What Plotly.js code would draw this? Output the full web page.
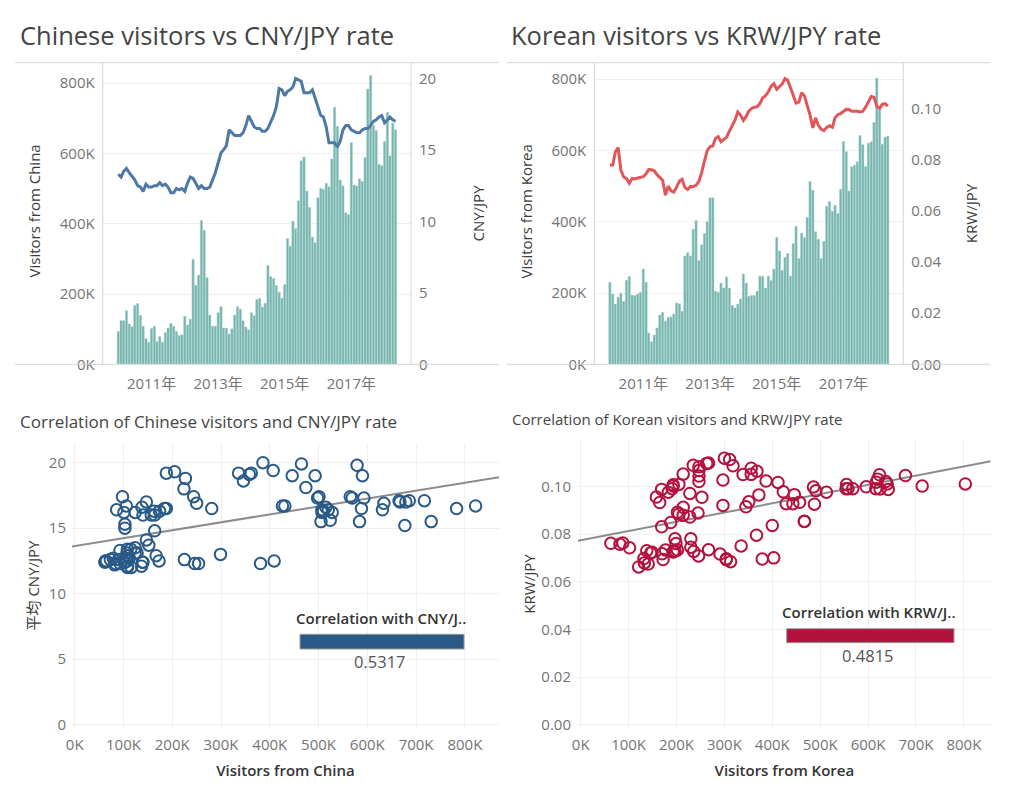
<!DOCTYPE html>
<html><head><meta charset="utf-8">
<script src="https://cdn.plot.ly/plotly-3.0.1.min.js"></script>
<style>html,body{margin:0;padding:0;background:#fff}#chart{width:1014px;height:797px}</style>
</head><body><div id="chart"></div>
<script>
// ---------- data ----------
const firstMonth = '2010-01';
const chinaVisitorsK = [93,124,124,152,115,107,167,173,139,108,73,62,102,108,65,79,63,90,103,116,
  108,93,82,84,137,112,128,299,225,254,409,381,246,140,108,108,147,164,103,103,
  86,101,140,164,157,124,106,98,147,138,184,188,163,174,281,250,244,224,205,188,
  227,358,336,407,386,465,579,590,493,446,362,346,474,501,498,515,505,584,731,677,
  524,507,431,426,631,510,507,528,520,588,783,822,679,665,569,565,634,717,593,686,667];
const cnyJpy = [13.3,13.1,13.5,13.7,13.4,13.1,12.9,12.5,12.4,12.1,12.6,12.4,12.4,12.5,12.5,12.7,12.5,12.6,12.4,12.0,
  12.0,12.3,12.2,12.3,12.1,12.7,13.1,13.0,12.6,12.3,12.5,12.3,12.3,12.4,12.9,13.4,14.1,14.8,15.0,15.3,
  16.4,16.2,16.0,16.0,16.0,16.2,16.7,17.4,17.0,16.6,16.5,16.5,16.3,16.3,16.5,16.9,17.4,18.0,19.3,19.2,
  18.8,19.1,19.2,19.4,20.0,19.9,19.8,19.0,19.0,19.0,19.2,18.6,18.1,17.4,17.3,16.6,15.5,15.5,15.5,15.2,
  15.6,16.4,16.7,16.7,16.4,16.3,16.2,16.2,16.4,16.5,16.5,16.7,17.0,17.1,17.3,17.4,16.9,17.1,17.3,17.1,17.0];
const koreaVisitorsK = [230,197,169,188,199,177,236,246,194,193,197,202,267,230,88,63,82,102,138,146,
  121,132,133,141,172,170,149,304,313,304,379,403,291,335,367,400,467,467,205,202,
  228,214,245,214,165,158,169,183,253,228,191,193,193,205,247,247,214,247,235,267,
  356,318,263,300,311,247,339,387,297,368,356,412,513,488,372,351,297,345,443,457,
  429,446,423,491,625,596,486,554,558,568,642,616,555,620,624,678,803,713,617,637,640];
const krwJpy = [0.078,0.078,0.083,0.0848,0.076,0.0733,0.0727,0.0708,0.0727,0.0725,0.0729,0.0733,0.0734,0.0745,0.0762,0.0761,0.0757,0.0742,0.073,0.072,
  0.0662,0.0697,0.0679,0.0674,0.0693,0.0717,0.0724,0.0692,0.0684,0.0696,0.0695,0.070,0.0716,0.075,0.0795,0.0836,0.0852,0.0854,0.0884,0.0891,
  0.0871,0.0879,0.0888,0.0912,0.0932,0.0955,0.0987,0.0975,0.0954,0.097,0.099,0.1001,0.1006,0.1008,0.102,0.1043,0.1051,0.1066,0.1088,0.1098,
  0.1076,0.1086,0.1096,0.1118,0.1112,0.1082,0.1049,0.1022,0.1026,0.1063,0.1050,0.1016,0.0975,0.0925,0.0964,0.0935,0.092,0.0914,0.0927,0.0933,
  0.0927,0.0965,0.0977,0.0981,0.0989,0.0998,0.0997,0.099,0.099,0.099,0.0987,0.099,0.1007,0.103,0.1048,0.1045,0.101,0.1001,0.1017,0.102,0.101];
const yearTickDates = ['2011-01-01','2013-01-01','2015-01-01','2017-01-01'];
const yearTickLabels = ['2011年','2013年','2015年','2017年'];
const visitorTicks = [0,200,400,600,800];
const visitorTickLabels = ['0K','200K','400K','600K','800K'];
const scatterXTicks = [0,100,200,300,400,500,600,700,800];
const scatterXTickLabels = ['0K','100K','200K','300K','400K','500K','600K','700K','800K'];
const cnyTicks = [0,5,10,15,20];
const krwTicks = [0,0.02,0.04,0.06,0.08,0.10];
const chinaCorrLabel = '0.5317';
const koreaCorrLabel = '0.4815';

// ---------- helpers ----------
const months = [];
(function(){ let [y,m] = firstMonth.split('-').map(Number);
  for (let i=0;i<chinaVisitorsK.length;i++){ months.push(y+'-'+String(m).padStart(2,'0')+'-01'); m++; if(m>12){m=1;y++;} } })();
function fit(xs, ys){ const n=xs.length; let sx=0,sy=0,sxx=0,sxy=0;
  for(let i=0;i<n;i++){sx+=xs[i];sy+=ys[i];sxx+=xs[i]*xs[i];sxy+=xs[i]*ys[i];}
  const b=(n*sxy-sx*sy)/(n*sxx-sx*sx); const a=(sy-b*sx)/n; return x=>a+b*x; }
const W=1014,H=797;
const px=x=>x/W, py=y=>1-y/H;
const FONT='"Open Sans", "Noto Sans CJK JP", Lato, sans-serif';
const TICKC='#747474', TITLEC='#3a3a3a', GRID='#efefef', BORDER='#d4d4d4';
const teal='#74b4ae', blueLine='#4e79a7', redLine='#e15759', blueDot='#295a87', redDot='#b3123e';

const cnRange=[-5.5,870], krRange=[-5.6,856];
const cnFit=fit(chinaVisitorsK,cnyJpy), krFit=fit(koreaVisitorsK,krwJpy);

const traces = [
  {type:'bar', x:months, y:chinaVisitorsK, xaxis:'x', yaxis:'y', marker:{color:teal, line:{color:'#a9d0cb', width:0.5}}},
  {type:'scatter', mode:'lines', x:months, y:cnyJpy, xaxis:'x', yaxis:'y2', line:{color:blueLine, width:3}},
  {type:'bar', x:months, y:koreaVisitorsK, xaxis:'x2', yaxis:'y3', marker:{color:teal, line:{color:'#a9d0cb', width:0.5}}},
  {type:'scatter', mode:'lines', x:months, y:krwJpy, xaxis:'x2', yaxis:'y4', line:{color:redLine, width:3}},
  {type:'scatter', mode:'lines', x:cnRange, y:cnRange.map(cnFit), xaxis:'x3', yaxis:'y5', line:{color:'#8c8c8c', width:2}},
  {type:'scatter', mode:'markers', x:chinaVisitorsK, y:cnyJpy, xaxis:'x3', yaxis:'y5', marker:{symbol:'circle-open', size:11.5, color:blueDot, line:{width:2}}},
  {type:'scatter', mode:'lines', x:krRange, y:krRange.map(krFit), xaxis:'x4', yaxis:'y6', line:{color:'#8c8c8c', width:2}},
  {type:'scatter', mode:'markers', x:koreaVisitorsK, y:krwJpy, xaxis:'x4', yaxis:'y6', marker:{symbol:'circle-open', size:11.5, color:redDot, line:{width:2}}}
];

const tickFont={family:FONT,size:15,color:TICKC};
const titleFont={family:FONT,size:15,color:TITLEC};
const boldTitleFont={family:FONT,size:15,weight:600,color:'#333'};
const base={showline:false, zeroline:false, ticks:'', tickfont:tickFont, fixedrange:true};
const dateRange=['2009-07-14','2018-10-18'];

const layout = {
  width:W, height:H, margin:{l:0,r:0,t:0,b:0}, paper_bgcolor:'#fff', plot_bgcolor:'rgba(0,0,0,0)',
  showlegend:false, bargap:0.12, font:{family:FONT},
  xaxis: Object.assign({}, base, {domain:[px(102.7),px(411)], anchor:'y', type:'date', range:dateRange, tickmode:'array', tickvals:yearTickDates, ticktext:yearTickLabels, showgrid:false, ticklabelstandoff:9}),
  yaxis: Object.assign({}, base, {domain:[py(364.3),py(62.7)], anchor:'x', range:[0,858], tickmode:'array', tickvals:visitorTicks, ticktext:visitorTickLabels, gridcolor:GRID, ticklabelstandoff:7}),
  yaxis2: Object.assign({}, base, {overlaying:'y', side:'right', anchor:'x', range:[0,21.1], tickmode:'array', tickvals:cnyTicks, showgrid:false, ticklabelstandoff:7, title:{text:'CNY/JPY', font:titleFont, standoff:38}}),
  xaxis2: Object.assign({}, base, {domain:[px(594.3),px(903.3)], anchor:'y3', type:'date', range:dateRange, tickmode:'array', tickvals:yearTickDates, ticktext:yearTickLabels, showgrid:false, ticklabelstandoff:9}),
  yaxis3: Object.assign({}, base, {domain:[py(364.3),py(62.7)], anchor:'x2', range:[0,846], tickmode:'array', tickvals:visitorTicks, ticktext:visitorTickLabels, gridcolor:GRID, ticklabelstandoff:7}),
  yaxis4: Object.assign({}, base, {overlaying:'y3', side:'right', anchor:'x2', range:[0,0.118], tickmode:'array', tickvals:krwTicks, tickformat:'.2f', showgrid:false, ticklabelstandoff:7, title:{text:'KRW/JPY', font:titleFont, standoff:26}}),
  xaxis3: Object.assign({}, base, {domain:[px(72),px(499)], anchor:'y5', range:cnRange, tickmode:'array', tickvals:scatterXTicks, ticktext:scatterXTickLabels, gridcolor:GRID, ticklabelstandoff:6, title:{text:'Visitors from China', font:boldTitleFont, standoff:12}}),
  yaxis5: Object.assign({}, base, {domain:[py(728),py(443)], anchor:'x3', range:[-0.25,21.5], tickmode:'array', tickvals:cnyTicks, gridcolor:GRID, ticklabelstandoff:5, title:{text:'平均 CNY/JPY', font:titleFont, standoff:5}}),
  xaxis4: Object.assign({}, base, {domain:[px(578),px(990.7)], anchor:'y6', range:krRange, tickmode:'array', tickvals:scatterXTicks, ticktext:scatterXTickLabels, gridcolor:GRID, ticklabelstandoff:6, title:{text:'Visitors from Korea', font:boldTitleFont, standoff:12}}),
  yaxis6: Object.assign({}, base, {domain:[py(728),py(440)], anchor:'x4', range:[-0.0013,0.1194], tickmode:'array', tickvals:krwTicks, tickformat:'.2f', gridcolor:GRID, ticklabelstandoff:6, title:{text:'KRW/JPY', font:titleFont, standoff:2}}),
  shapes: [
    {type:'line', xref:'paper', yref:'paper', x0:px(15), x1:px(499), y0:py(62.7), y1:py(62.7), line:{color:BORDER,width:1}},
    {type:'line', xref:'paper', yref:'paper', x0:px(15), x1:px(499), y0:py(364.3), y1:py(364.3), line:{color:BORDER,width:1}},
    {type:'line', xref:'paper', yref:'paper', x0:px(102.7), x1:px(102.7), y0:py(62.7), y1:py(364.3), line:{color:BORDER,width:1}},
    {type:'line', xref:'paper', yref:'paper', x0:px(411), x1:px(411), y0:py(62.7), y1:py(364.3), line:{color:BORDER,width:1}},
    {type:'line', xref:'paper', yref:'paper', x0:px(507), x1:px(990), y0:py(62.7), y1:py(62.7), line:{color:BORDER,width:1}},
    {type:'line', xref:'paper', yref:'paper', x0:px(507), x1:px(990), y0:py(364.3), y1:py(364.3), line:{color:BORDER,width:1}},
    {type:'line', xref:'paper', yref:'paper', x0:px(594.3), x1:px(594.3), y0:py(62.7), y1:py(364.3), line:{color:BORDER,width:1}},
    {type:'line', xref:'paper', yref:'paper', x0:px(903.3), x1:px(903.3), y0:py(62.7), y1:py(364.3), line:{color:BORDER,width:1}},
    {type:'rect', xref:'paper', yref:'paper', x0:px(300), x1:px(464), y0:py(649), y1:py(634.3), fillcolor:blueDot, line:{color:'#999',width:1}},
    {type:'rect', xref:'paper', yref:'paper', x0:px(786.7), x1:px(954), y0:py(642.7), y1:py(628.7), fillcolor:redDot, line:{color:'#999',width:1}}
  ],
  annotations: [
    {text:'Chinese visitors vs CNY/JPY rate', xref:'paper', yref:'paper', x:px(18), y:py(35), xanchor:'left', yanchor:'middle', showarrow:false, font:{family:FONT,size:25.5,color:'#444'}},
    {text:'Korean visitors vs KRW/JPY rate', xref:'paper', yref:'paper', x:px(509), y:py(35), xanchor:'left', yanchor:'middle', showarrow:false, font:{family:FONT,size:25.5,color:'#444'}},
    {text:'Visitors from China', xref:'paper', yref:'paper', x:px(33), y:py(211.5), xanchor:'center', yanchor:'middle', textangle:-90, showarrow:false, font:titleFont},
    {text:'Visitors from Korea', xref:'paper', yref:'paper', x:px(525), y:py(211.5), xanchor:'center', yanchor:'middle', textangle:-90, showarrow:false, font:titleFont},
    {text:'Correlation of Chinese visitors and CNY/JPY rate', xref:'paper', yref:'paper', x:px(18), y:py(421), xanchor:'left', yanchor:'middle', showarrow:false, font:{family:FONT,size:17,color:'#444'}},
    {text:'Correlation of Korean visitors and KRW/JPY rate', xref:'paper', yref:'paper', x:px(510), y:py(419), xanchor:'left', yanchor:'middle', showarrow:false, font:{family:FONT,size:15,color:'#444'}},
    {text:'Correlation with CNY/J..', xref:'paper', yref:'paper', x:px(380.5), y:py(618), xanchor:'center', yanchor:'middle', showarrow:false, font:boldTitleFont},
    {text:chinaCorrLabel, xref:'paper', yref:'paper', x:px(380), y:py(661.5), xanchor:'center', yanchor:'middle', showarrow:false, font:{family:FONT,size:16.5,color:'#555'}},
    {text:'Correlation with KRW/J..', xref:'paper', yref:'paper', x:px(869), y:py(612.3), xanchor:'center', yanchor:'middle', showarrow:false, font:boldTitleFont},
    {text:koreaCorrLabel, xref:'paper', yref:'paper', x:px(868.3), y:py(655.7), xanchor:'center', yanchor:'middle', showarrow:false, font:{family:FONT,size:16.5,color:'#555'}}
  ]
};
Plotly.newPlot('chart', traces, layout, {staticPlot:true, displayModeBar:false});
</script></body></html>
